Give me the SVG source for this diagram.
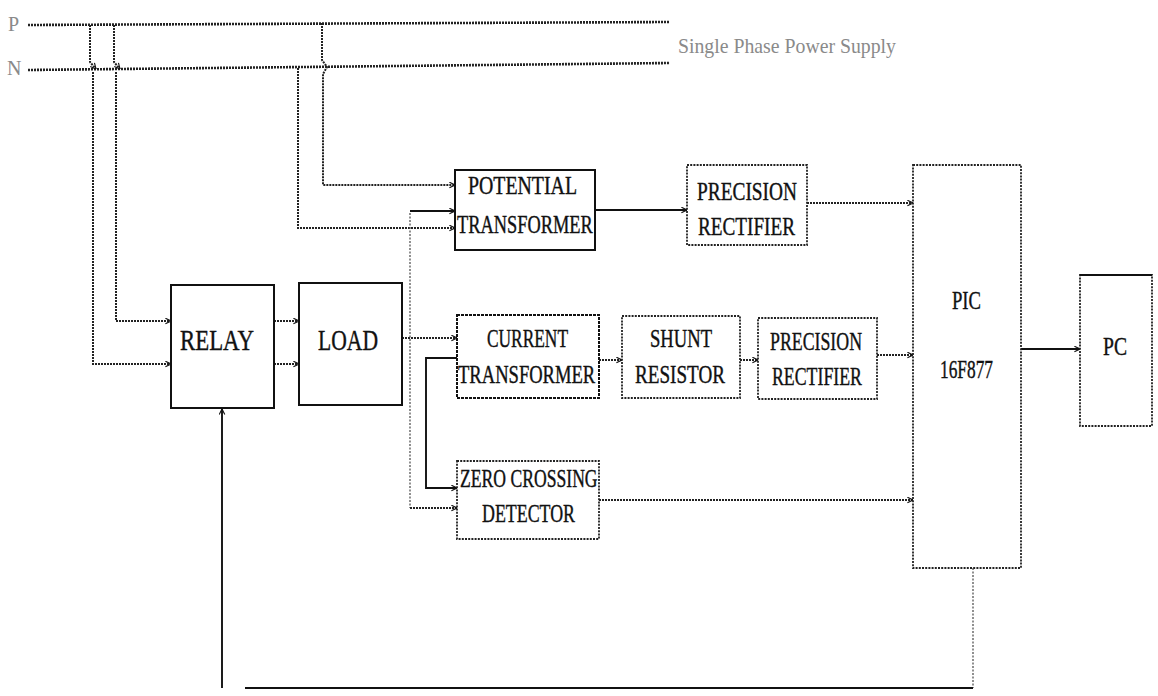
<svg xmlns="http://www.w3.org/2000/svg" width="1158" height="696" viewBox="0 0 1158 696">
<style>
  .bg{fill:#fff}
  .sup{fill:none;stroke:#222;stroke-width:2.6;stroke-dasharray:2 1}
  .dot{fill:none;stroke:#222;stroke-width:2;stroke-dasharray:2 1}
  .thin{fill:none;stroke:#555;stroke-width:1.3;stroke-dasharray:2 1.5}
  .sol{fill:none;stroke:#111;stroke-width:1.9}
  .boxs{fill:#fff;stroke:#111;stroke-width:2}
  .boxd{fill:#fff;stroke:#222;stroke-width:1.8;stroke-dasharray:2 1.2}
  .lbl{font-family:"Liberation Serif","Times New Roman",serif;font-size:26px;fill:#111;stroke:#111;stroke-width:0.4}
  .big{font-family:"Liberation Serif","Times New Roman",serif;font-size:30px;fill:#111;stroke:#111;stroke-width:0.4}
  .gray{font-family:"Liberation Serif","Times New Roman",serif;fill:#8a8a8a}
</style>
<defs>
  <marker id="ar" viewBox="0 0 10 10" refX="9" refY="5" markerWidth="7" markerHeight="7" orient="auto" markerUnits="userSpaceOnUse">
    <path d="M1,1 L9,5 L1,9" fill="none" stroke="#111" stroke-width="1.6"/>
  </marker>
</defs>
<rect class="bg" width="1158" height="696"/>

<g id="supply">
  <text class="gray" x="8" y="31" font-size="20">P</text>
  <text class="gray" x="7" y="75" font-size="20">N</text>
  <path class="sup" d="M28,25 L670,22"/>
  <path class="sup" d="M28,70 L670,63"/>
  <text class="gray" x="678" y="53" font-size="21" textLength="218" lengthAdjust="spacingAndGlyphs">Single Phase Power Supply</text>
</g>

<g id="connectors">
  <path class="dot" d="M90,25 L90,62 L96,69" marker-end="url(#ar)"/>
  <path class="dot" d="M93,72 L93,364 L171,364" marker-end="url(#ar)"/>
  <path class="dot" d="M114,25 L114,62 L120,69" marker-end="url(#ar)"/>
  <path class="dot" d="M116,72 L116,321 L171,321" marker-end="url(#ar)"/>
  <path class="dot" d="M322,23 L322,60 L327,67 L323,74 L323,185 L455,185" marker-end="url(#ar)"/>
  <path class="dot" d="M298,68 L298,228 L455,228" marker-end="url(#ar)"/>
  <path class="dot" d="M274,321 L299,321" marker-end="url(#ar)"/>
  <path class="dot" d="M274,364 L299,364" marker-end="url(#ar)"/>
  <path class="dot" d="M402,338 L457,338" marker-end="url(#ar)"/>
  <path class="thin" d="M410,213 L410,508"/>
  <path class="sol" d="M410,211 L455,211" marker-end="url(#ar)"/>
  <path class="dot" d="M410,508 L457,508" marker-end="url(#ar)"/>
  <path class="sol" d="M457,358 L426,358 L426,488 L457,488" marker-end="url(#ar)"/>
  <path class="sol" d="M595,210 L687,210" marker-end="url(#ar)"/>
  <path class="dot" d="M807,203 L913,203" marker-end="url(#ar)"/>
  <path class="dot" d="M599,360 L622,360" marker-end="url(#ar)"/>
  <path class="dot" d="M740,360 L758,360" marker-end="url(#ar)"/>
  <path class="dot" d="M877,355 L913,355" marker-end="url(#ar)"/>
  <path class="dot" d="M599,500 L913,500" marker-end="url(#ar)"/>
  <path class="sol" d="M1021,349 L1080,349" marker-end="url(#ar)"/>
  <path class="thin" d="M973,568 L973,688"/>
  <path class="sol" d="M973,688 L245,688" stroke-width="2.2"/>
  <path class="sol" d="M222,688 L222,409" stroke-width="1.4" marker-end="url(#ar)"/>
</g>

<g id="relay">
  <rect class="boxs" x="171" y="285" width="103" height="123"/>
  <text class="big" x="180" y="350" textLength="74" lengthAdjust="spacingAndGlyphs">RELAY</text>
</g>
<g id="load">
  <rect class="boxs" x="299" y="283" width="103" height="122"/>
  <text class="big" x="318" y="350" textLength="60" lengthAdjust="spacingAndGlyphs">LOAD</text>
</g>
<g id="pt">
  <rect class="boxs" x="455" y="170" width="140" height="80"/>
  <text class="lbl" x="468" y="194" textLength="109" lengthAdjust="spacingAndGlyphs">POTENTIAL</text>
  <text class="lbl" transform="translate(457,233) scale(0.75,1)" x="0" y="0" textLength="181" lengthAdjust="spacingAndGlyphs">TRANSFORMER</text>
</g>
<g id="pr1">
  <rect class="boxd" x="687" y="165" width="120" height="80"/>
  <text class="lbl" x="697" y="200" textLength="100" lengthAdjust="spacingAndGlyphs">PRECISION</text>
  <text class="lbl" x="698" y="235" textLength="97" lengthAdjust="spacingAndGlyphs">RECTIFIER</text>
</g>
<g id="ct">
  <rect class="boxs" x="457" y="315" width="142" height="83" stroke-dasharray="3 1"/>
  <text class="lbl" x="487" y="347" textLength="81" lengthAdjust="spacingAndGlyphs">CURRENT</text>
  <text class="lbl" transform="translate(458,383) scale(0.75,1)" x="0" y="0" textLength="183" lengthAdjust="spacingAndGlyphs">TRANSFORMER</text>
</g>
<g id="shunt">
  <rect class="boxd" x="622" y="316" width="118" height="82"/>
  <text class="lbl" x="650" y="347" textLength="62" lengthAdjust="spacingAndGlyphs">SHUNT</text>
  <text class="lbl" x="635" y="383" textLength="90" lengthAdjust="spacingAndGlyphs">RESISTOR</text>
</g>
<g id="pr2">
  <rect class="boxd" x="758" y="318" width="119" height="81"/>
  <text class="lbl" x="770" y="350" textLength="92" lengthAdjust="spacingAndGlyphs">PRECISION</text>
  <text class="lbl" x="772" y="385" textLength="90" lengthAdjust="spacingAndGlyphs">RECTIFIER</text>
</g>
<g id="zcd">
  <rect class="boxd" x="457" y="461" width="142" height="78"/>
  <text class="lbl" transform="translate(460,487) scale(0.8,1)" x="0" y="0" textLength="172" lengthAdjust="spacingAndGlyphs">ZERO CROSSING</text>
  <text class="lbl" x="482" y="522" textLength="93" lengthAdjust="spacingAndGlyphs">DETECTOR</text>
</g>
<g id="pic">
  <rect class="boxd" x="913" y="165" width="108" height="403"/>
  <text class="lbl" x="952" y="309" textLength="29" lengthAdjust="spacingAndGlyphs">PIC</text>
  <text class="lbl" x="940" y="378" textLength="53" lengthAdjust="spacingAndGlyphs">16F877</text>
</g>
<g id="pc">
  <rect class="boxd" x="1080" y="275" width="72" height="151"/>
  <path class="sol" d="M1080,275 L1152,275"/>
  <text class="lbl" x="1103" y="355" textLength="24" lengthAdjust="spacingAndGlyphs">PC</text>
</g>
</svg>
